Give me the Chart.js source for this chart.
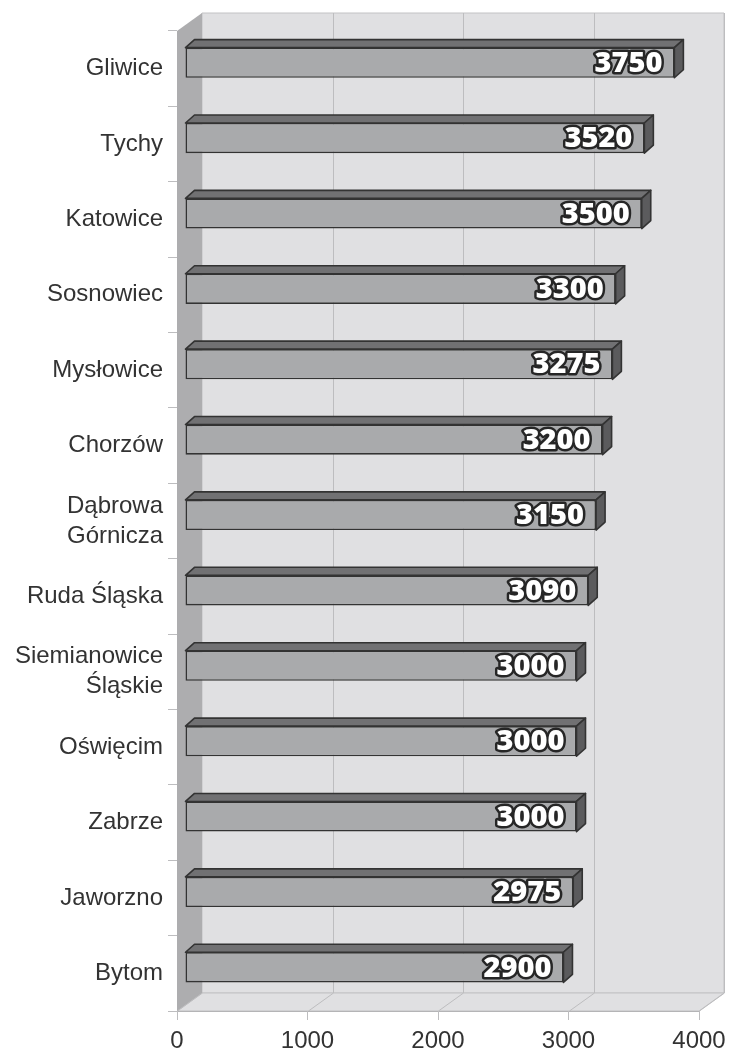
<!DOCTYPE html>
<html>
<head>
<meta charset="utf-8">
<script src="https://cdn.jsdelivr.net/npm/chart.js@4.4.1/dist/chart.umd.min.js"></script>
<style>
  html, body { margin: 0; padding: 0; background: #ffffff; }
  #wrap { width: 750px; height: 1057px; position: relative; }
</style>
</head>
<body>
<div id="wrap"><canvas id="c"></canvas></div>
<script>
const categories = ['Gliwice', 'Tychy', 'Katowice', 'Sosnowiec', 'Mysłowice', 'Chorzów',
  ['Dąbrowa', 'Górnicza'], 'Ruda Śląska', ['Siemianowice', 'Śląskie'], 'Oświęcim',
  'Zabrze', 'Jaworzno', 'Bytom'];
const values = [3750, 3520, 3500, 3300, 3275, 3200, 3150, 3090, 3000, 3000, 3000, 2975, 2900];
const valueLabels = ['3750', '3520', '3500', '3300', '3275', '3200', '3150', '3090', '3000', '3000', '3000', '2975', '2900'];
const xTickValues = [0, 1000, 2000, 3000, 4000];

// 3D geometry settings
const WALL_DX = 25, WALL_DY = -18;
const BAR_SHIFT_X = 8, BAR_SHIFT_Y = -6;
const BAR_DX = 9, BAR_DY = -8;

const box3d = {
  id: 'box3d',
  beforeDraw(chart) {
    const { ctx, chartArea: a, scales } = chart;
    const L = a.left, R = a.right, T = a.top, B = a.bottom;
    ctx.save();
    ctx.fillStyle = '#ffffff';
    ctx.fillRect(0, 0, chart.width, chart.height);
    // back wall
    ctx.fillStyle = '#e0e0e2';
    ctx.strokeStyle = '#c2c2c4';
    ctx.lineWidth = 1;
    ctx.beginPath();
    ctx.rect(L + WALL_DX, T + WALL_DY, R - L, B - T);
    ctx.fill();
    ctx.stroke();
    // floor
    ctx.beginPath();
    ctx.moveTo(L, B); ctx.lineTo(R, B); ctx.lineTo(R + WALL_DX, B + WALL_DY); ctx.lineTo(L + WALL_DX, B + WALL_DY);
    ctx.closePath();
    ctx.fillStyle = '#e0e0e2';
    ctx.fill();
    ctx.stroke();
    // left wall
    ctx.beginPath();
    ctx.moveTo(L, T); ctx.lineTo(L + WALL_DX, T + WALL_DY); ctx.lineTo(L + WALL_DX, B + WALL_DY); ctx.lineTo(L, B);
    ctx.closePath();
    ctx.fillStyle = '#adadaf';
    ctx.fill();
    // gridlines on back wall & floor
    const xs = scales.x;
    ctx.strokeStyle = '#bdbdbf';
    ctx.lineWidth = 1;
    xTickValues.forEach(v => {
      const px = Math.round(xs.getPixelForValue(v)) + 0.5;
      ctx.beginPath();
      if (v !== 0) {
        ctx.moveTo(px + WALL_DX, T + WALL_DY);
        ctx.lineTo(px + WALL_DX, B + WALL_DY);
      }
      ctx.moveTo(px, B);
      ctx.lineTo(px + WALL_DX, B + WALL_DY);
      ctx.stroke();
    });
    // front floor edge
    ctx.strokeStyle = '#b4b4b6';
    ctx.beginPath();
    ctx.moveTo(L, B + 0.5); ctx.lineTo(R, B + 0.5);
    ctx.stroke();
    ctx.restore();
  },
  beforeDatasetsDraw(chart) {
    chart.ctx.save();
    chart.ctx.translate(BAR_SHIFT_X, BAR_SHIFT_Y);
  },
  afterDatasetsDraw(chart) {
    const ctx = chart.ctx;
    const meta = chart.getDatasetMeta(0);
    ctx.lineJoin = 'round';
    meta.data.forEach(bar => {
      const p = bar.getProps(['x', 'y', 'base', 'height'], true);
      const top = p.y - p.height / 2, bot = p.y + p.height / 2;
      // top face
      ctx.beginPath();
      ctx.moveTo(p.base, top); ctx.lineTo(p.x, top);
      ctx.lineTo(p.x + BAR_DX, top + BAR_DY); ctx.lineTo(p.base + BAR_DX, top + BAR_DY);
      ctx.closePath();
      ctx.fillStyle = '#717173';
      ctx.fill();
      ctx.strokeStyle = '#333333';
      ctx.lineWidth = 1.6;
      ctx.stroke();
      // side face
      ctx.beginPath();
      ctx.moveTo(p.x, top); ctx.lineTo(p.x + BAR_DX, top + BAR_DY);
      ctx.lineTo(p.x + BAR_DX, bot + BAR_DY); ctx.lineTo(p.x, bot);
      ctx.closePath();
      ctx.fillStyle = '#5b5b5d';
      ctx.fill();
      ctx.stroke();
    });
    // value labels
    ctx.font = '800 29px "Open Sans", "DejaVu Sans", sans-serif';
    ctx.textAlign = 'right';
    ctx.textBaseline = 'middle';
    meta.data.forEach((bar, i) => {
      const p = bar.getProps(['x', 'y'], true);
      const tx = p.x - 12, ty = p.y + 1;
      ctx.lineWidth = 5;
      ctx.strokeStyle = '#262626';
      ctx.strokeText(valueLabels[i], tx, ty);
      ctx.fillStyle = '#ffffff';
      ctx.fillText(valueLabels[i], tx, ty);
    });
    ctx.restore();
  }
};

new Chart(document.getElementById('c'), {
  type: 'bar',
  data: {
    labels: categories,
    datasets: [{
      data: values,
      backgroundColor: '#a9aaac',
      borderColor: '#333333',
      borderWidth: 1.6,
      borderSkipped: false,
      categoryPercentage: 1.0,
      barPercentage: 0.4
    }]
  },
  options: {
    indexAxis: 'y',
    responsive: true,
    maintainAspectRatio: false,
    animation: false,
    layout: { padding: { top: 31, right: 51, left: 0, bottom: 0 } },
    plugins: { legend: { display: false }, tooltip: { enabled: false } },
    scales: {
      x: {
        type: 'linear',
        min: 0, max: 4000,
        afterFit(s) { s.height = 46; },
        afterBuildTicks(s) { s.ticks = xTickValues.map(v => ({ value: v })); },
        border: { display: false },
        grid: { drawOnChartArea: false, drawTicks: true, tickLength: 9, color: '#bdbdbf' },
        ticks: {
          padding: 7,
          color: '#333333',
          font: { family: '"Liberation Sans", Arial, sans-serif', size: 24 },
          maxRotation: 0,
          callback: v => String(v)
        }
      },
      y: {
        type: 'category',
        afterFit(s) { s.width = 177; },
        border: { display: false },
        grid: { drawOnChartArea: false, drawTicks: true, tickLength: 9, color: '#bdbdbf', offset: true },
        ticks: {
          padding: 5,
          labelOffset: 0,
          color: '#333333',
          font: { family: '"Liberation Sans", Arial, sans-serif', size: 24, lineHeight: 1.25 }
        }
      }
    }
  },
  plugins: [box3d]
});
</script>
</body>
</html>
